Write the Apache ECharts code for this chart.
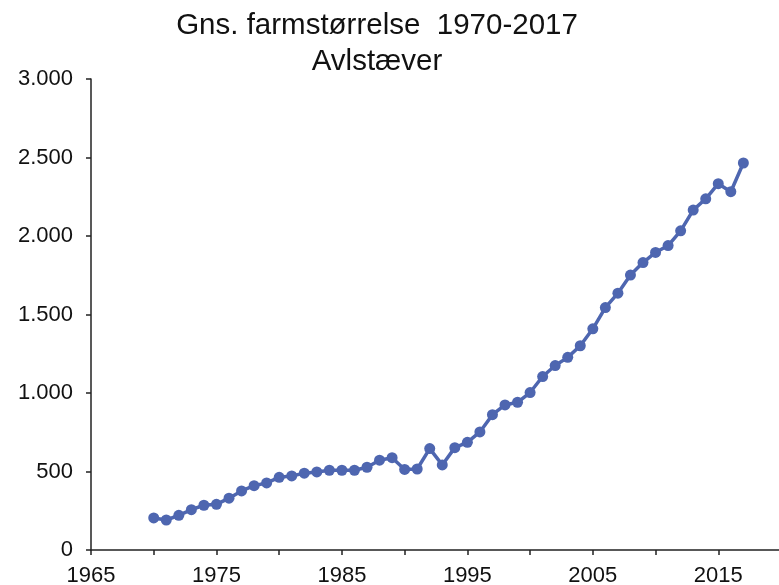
<!DOCTYPE html>
<html>
<head>
<meta charset="utf-8">
<script src="https://cdn.jsdelivr.net/npm/echarts@6/dist/echarts.min.js"></script>
<style>
  html, body { margin: 0; padding: 0; background: #fff; }
  #main { width: 779px; height: 585px; }
</style>
</head>
<body>
<div id="main"></div>
<script>
// data
var years = [1970, 1971, 1972, 1973, 1974, 1975, 1976, 1977, 1978, 1979,
             1980, 1981, 1982, 1983, 1984, 1985, 1986, 1987, 1988, 1989,
             1990, 1991, 1992, 1993, 1994, 1995, 1996, 1997, 1998, 1999,
             2000, 2001, 2002, 2003, 2004, 2005, 2006, 2007, 2008, 2009,
             2010, 2011, 2012, 2013, 2014, 2015, 2016, 2017];
var avlstaever = [204, 191, 221, 257, 285, 291, 330, 376, 410, 427,
                  463, 472, 489, 497, 508, 508, 508, 527, 572, 588,
                  513, 516, 646, 542, 652, 686, 752, 862, 924, 941,
                  1003, 1105, 1175, 1227, 1301, 1409, 1544, 1636, 1751, 1831,
                  1895, 1939, 2033, 2165, 2237, 2333, 2282, 2465];
var titleLines = ['Gns. farmstørrelse  1970-2017', 'Avlstæver'];

var chart = echarts.init(document.getElementById('main'));

var points = years.map(function (y, i) { return [y, avlstaever[i]]; });

// tusindtalsseparator med punktum
function fmtNum(v) {
  return String(v).replace(/\B(?=(\d{3})+(?!\d))/g, '.');
}

var font = '"Liberation Sans", Arial, sans-serif';

var option = {
  animation: false,
  backgroundColor: '#fff',
  title: {
    text: titleLines.join('\n'),
    left: 372,
    top: 3,
    textAlign: 'center',
    textStyle: {
      fontFamily: font,
      fontSize: 29.5,
      fontWeight: 'normal',
      color: '#111',
      lineHeight: 36
    }
  },
  grid: {
    left: 91,
    right: -2,
    top: 79,
    bottom: 35,
    outerBoundsMode: 'none'
  },
  xAxis: {
    type: 'value',
    min: 1965,
    max: 2020,
    interval: 5,
    splitLine: { show: false },
    axisLine: { lineStyle: { color: '#222', width: 1.5 } },
    axisTick: { show: true, length: 5, inside: false, lineStyle: { color: '#222', width: 1.5 } },
    axisLabel: {
      fontFamily: font,
      fontSize: 22,
      color: '#111',
      margin: 15,
      showMaxLabel: false,
      formatter: function (v) {
        return (v - 1965) % 10 === 0 ? String(v) : '';
      }
    }
  },
  yAxis: {
    type: 'value',
    min: 0,
    max: 3000,
    interval: 500,
    splitLine: { show: false },
    axisLine: { show: true, lineStyle: { color: '#222', width: 1.5 } },
    axisTick: { show: true, length: 5, inside: false, lineStyle: { color: '#222', width: 1.5 } },
    axisLabel: {
      fontFamily: font,
      fontSize: 22,
      color: '#111',
      margin: 18,
      formatter: fmtNum
    }
  },
  series: [
    {
      name: 'Avlstæver',
      type: 'line',
      data: points,
      symbol: 'circle',
      symbolSize: 11,
      lineStyle: { color: '#4e66b0', width: 3.5 },
      itemStyle: { color: '#4e66b0' }
    }
  ]
};

chart.setOption(option);
</script>
</body>
</html>
